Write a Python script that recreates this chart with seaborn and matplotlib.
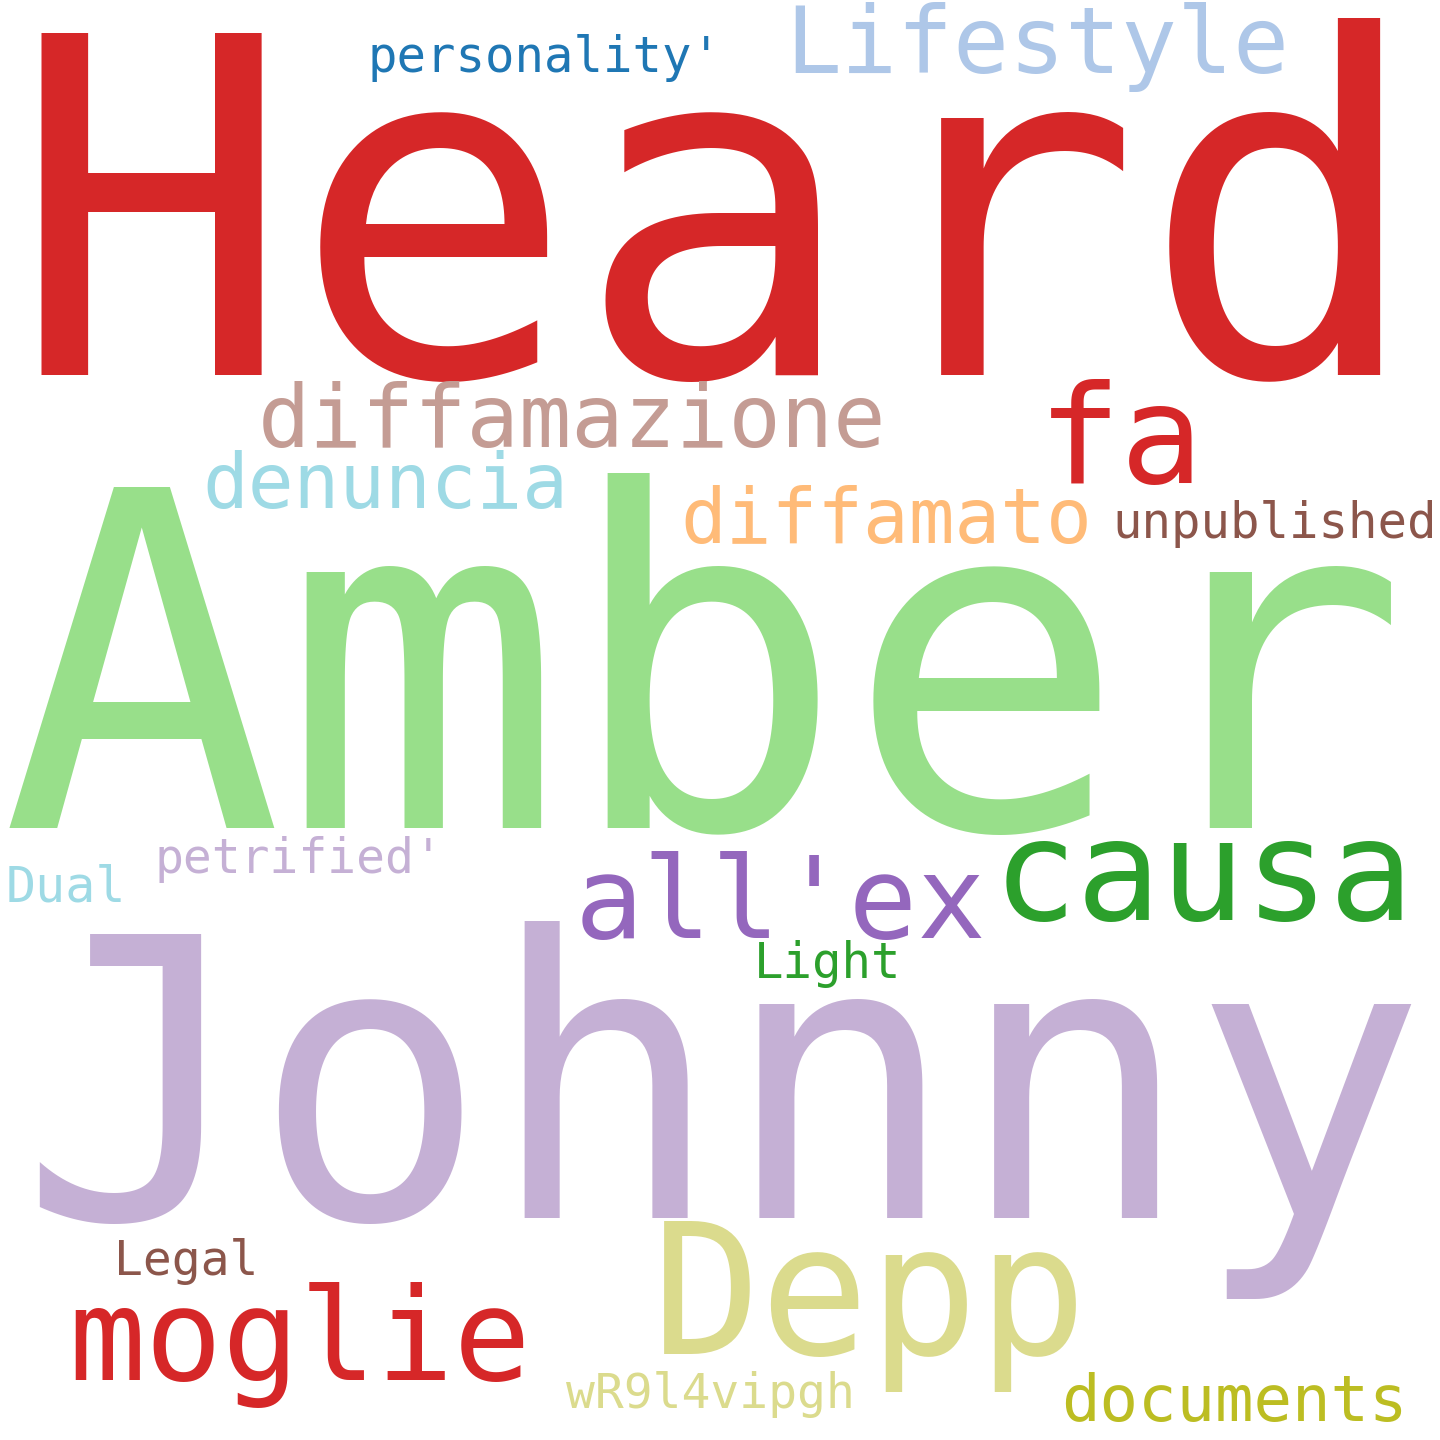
import matplotlib
matplotlib.use('Agg')
import matplotlib.pyplot as plt
import seaborn as sns

# ==============================
# DATOS
# ==============================

WORDS = [
    "Heard", "Lifestyle", "personality'", "diffamazione", "fa",
    "denuncia", "diffamato", "unpublished", "Amber", "causa",
    "all'ex", "petrified'", "Dual", "Light", "Johnny",
    "Legal", "moglie", "Depp", "wR9l4vipgh", "documents",
]

# índice de color dentro de la paleta tab20
COLOR_IDX = [6, 1, 0, 11, 6, 19, 3, 10, 5, 4, 8, 9, 19, 4, 9, 10, 6, 17, 17, 16]

# ==============================
# LAYOUT (pixeles en un lienzo 1440x1440)
# ==============================

# tamaño de fuente (em en px), centro horizontal de la palabra y línea base
EM_PX  = [470, 93, 49, 87, 138, 76, 76, 49, 468, 140,
          114, 48, 50, 49, 390, 48, 128, 181, 48, 64]
CENTER = [717, 1037, 545, 572, 1121, 385, 886, 1275, 705, 1203,
          780, 299, 66, 828, 722, 186, 300, 870, 710, 1234]
BASE   = [375, 73, 72, 447, 483, 508, 543, 538, 828, 920,
          938, 873, 902, 978, 1218, 1275, 1380, 1354, 1408, 1421]

W, H = 1440, 1440
DPI = 100

sns.set_theme(style="white")
plt.rcParams["font.family"] = ["DejaVu Sans Mono", "DejaVu Sans"]

palette = sns.color_palette("tab20")

fig = plt.figure(figsize=(W / DPI, H / DPI), dpi=DPI)
ax = fig.add_axes([0, 0, 1, 1])
ax.set_xlim(0, W)
ax.set_ylim(H, 0)
ax.axis("off")
fig.patch.set_facecolor("white")

for word, ci, em, x, y in zip(WORDS, COLOR_IDX, EM_PX, CENTER, BASE):
    ax.text(x, y, word, fontsize=em * 72 / DPI, color=palette[ci],
            ha="center", va="baseline")

fig.savefig("out.png", dpi=DPI, facecolor="white")
plt.close()
